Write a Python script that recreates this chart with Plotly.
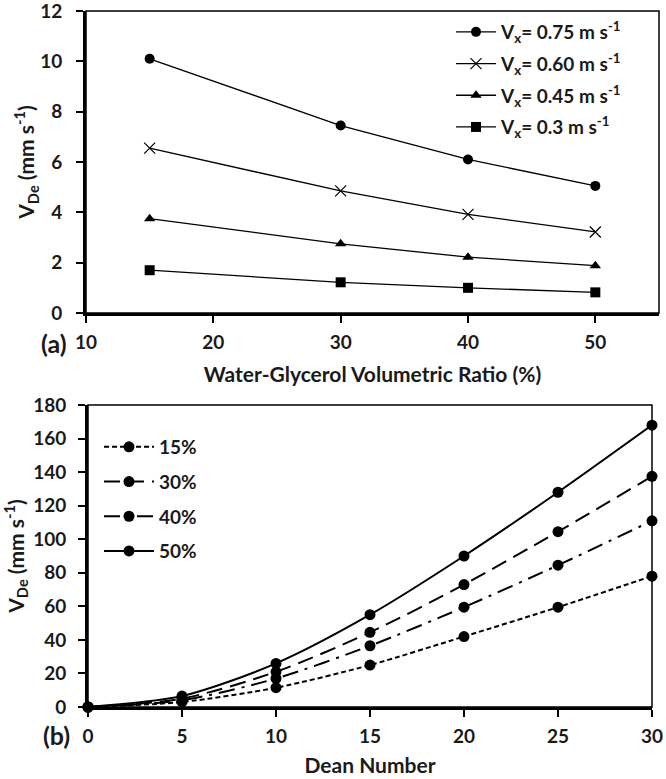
import plotly.graph_objects as go

# ---- data: panel (a) ----
ratio = [15, 30, 40, 50]
v075 = [10.1, 7.45, 6.1, 5.05]
v060 = [6.55, 4.85, 3.92, 3.22]
v045 = [3.75, 2.75, 2.22, 1.88]
v030 = [1.7, 1.22, 1.0, 0.82]
names_a = ["V<sub>x</sub>= 0.75 m s<sup>-1</sup>", "V<sub>x</sub>= 0.60 m s<sup>-1</sup>",
           "V<sub>x</sub>= 0.45 m s<sup>-1</sup>", "V<sub>x</sub>= 0.3 m s<sup>-1</sup>"]

# ---- data: panel (b) ----
dean = [0, 5, 10, 15, 20, 25, 30]
p15 = [0, 3, 11.5, 25, 42, 59.5, 78]
p30 = [0, 5, 21, 44.5, 73, 104.5, 137.5]
p40 = [0, 4, 17, 36.5, 59.5, 84.5, 111]
p50 = [0, 6.5, 26, 55, 90, 128, 168]
names_b = ["15%", "30%", "40%", "50%"]

W, H = 666, 779
FONT = "Lato"
TXT = "#1a1a1a"

def px_x(p):
    return p / W

def px_y(p):
    return 1 - p / H

fig = go.Figure()

sym_a = [("circle", 10, 0), ("x-thin", 11, 1.2), ("triangle-up", 10, 0), ("square", 10, 0)]
for i, (ys, nm) in enumerate(zip([v075, v060, v045, v030], names_a)):
    s, sz, lw = sym_a[i]
    fig.add_trace(go.Scatter(
        x=ratio, y=ys, name=nm, mode="lines+markers", cliponaxis=False,
        line=dict(color="black", width=1.3),
        marker=dict(symbol=s, size=sz, color="black", line=dict(color="black", width=lw)),
        xaxis="x", yaxis="y", legend="legend", legendgroup=f"a{i}"))

dashes = ["5px,3px", "16px,8px", "16px,7px,3px,7px", "solid"]
for i, (ys, nm) in enumerate(zip([p15, p30, p40, p50], names_b)):
    fig.add_trace(go.Scatter(
        x=dean, y=ys, name=nm, mode="lines+markers", cliponaxis=False,
        line=dict(color="black", width=2, dash=dashes[i], shape="spline", smoothing=0.8),
        marker=dict(symbol="circle", size=11, color="black"),
        xaxis="x2", yaxis="y2", legend="legend2", legendgroup=f"b{i}"))

tickfont = dict(family=FONT, size=19, color=TXT, weight="bold")
titlefont = dict(family=FONT, size=21, color=TXT, weight="bold")
common = dict(showgrid=False, zeroline=False, showline=True, linecolor="black", linewidth=3,
              ticks="outside", ticklen=7, tickwidth=2, tickcolor="black", tickfont=tickfont,
              automargin=False, ticklabeloverflow="allow")

fig.update_layout(
    width=W, height=H, margin=dict(l=0, r=0, t=0, b=0),
    paper_bgcolor="white", plot_bgcolor="white",
    font=dict(family=FONT, color=TXT),
    xaxis=dict(domain=[px_x(86), px_x(659)], range=[10, 55], tickvals=[10, 20, 30, 40, 50],
               anchor="y", ticklabelstandoff=3,
               title=dict(text="Water-Glycerol Volumetric Ratio (%)", font=titlefont, standoff=16),
               **common),
    yaxis=dict(domain=[px_y(313), px_y(11)], range=[0, 12], tickvals=[0, 2, 4, 6, 8, 10, 12],
               anchor="x", ticklabelstandoff=10,
               title=dict(text="V<sub>De</sub> (mm s<sup>-1</sup>)", font=titlefont, standoff=0),
               **common),
    xaxis2=dict(domain=[px_x(88), px_x(652)], range=[0, 30], dtick=5, anchor="y2", ticklabelstandoff=3,
                title=dict(text="Dean Number", font=titlefont, standoff=13), **common),
    yaxis2=dict(domain=[px_y(707), px_y(405)], range=[0, 180], dtick=20, anchor="x2", ticklabelstandoff=8,
                title=dict(text="V<sub>De</sub> (mm s<sup>-1</sup>)", font=titlefont, standoff=17),
                **common),
    legend=dict(x=px_x(451), y=px_y(13), xanchor="left", yanchor="top", bgcolor="rgba(0,0,0,0)",
                font=dict(family=FONT, size=19, color=TXT, weight="bold"),
                itemwidth=40, tracegroupgap=4, traceorder="grouped"),
    legend2=dict(x=px_x(99), y=px_y(428), xanchor="left", yanchor="top", bgcolor="rgba(0,0,0,0)",
                 font=dict(family=FONT, size=19, color=TXT, weight="bold"),
                 itemwidth=50, tracegroupgap=7, traceorder="grouped"),
    showlegend=True,
)

# thin frame on top/right sides
for xr, yr in [("x domain", "y domain"), ("x2 domain", "y2 domain")]:
    fig.add_shape(type="rect", xref=xr, yref=yr, x0=0, x1=1, y0=0, y1=1,
                  line=dict(color="black", width=1.5), layer="below")

fig.add_annotation(text="(a)", xref="paper", yref="paper", x=px_x(39), y=px_y(343),
                   showarrow=False, font=dict(family=FONT, size=25, color=TXT, weight="bold"))
fig.add_annotation(text="(b)", xref="paper", yref="paper", x=px_x(41), y=px_y(752),
                   showarrow=False, font=dict(family=FONT, size=25, color=TXT, weight="bold"))

fig.write_html("out.html", config={"displayModeBar": False},
               post_script="document.body.style.margin='0';"
                           "document.documentElement.style.overflow='hidden';")
